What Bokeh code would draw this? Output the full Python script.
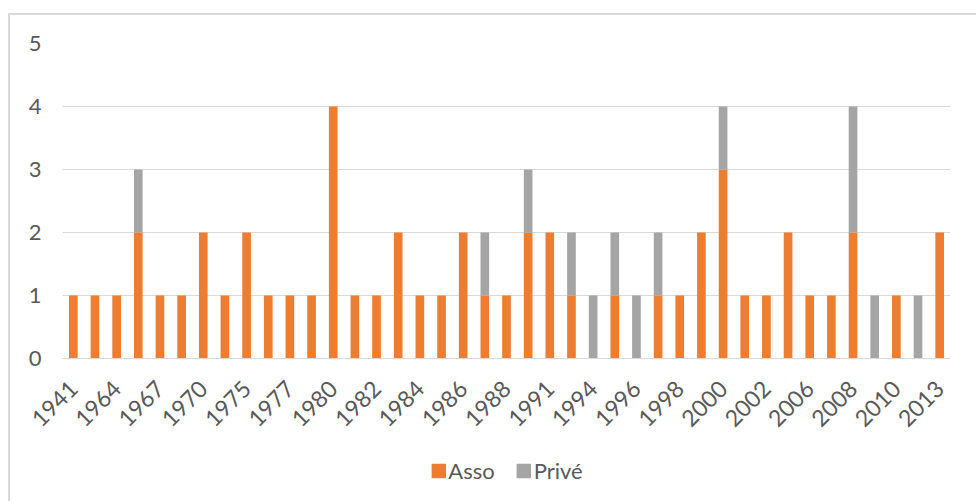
import math
from bokeh.plotting import figure
from bokeh.models import ColumnDataSource, Range1d, FixedTicker, Legend, LegendItem, Spacer
from bokeh.layouts import column, row
from bokeh.embed import file_html
from bokeh.resources import INLINE

years = ["1941", "1962", "1964", "1965", "1967", "1969", "1970", "1973", "1975", "1976",
         "1977", "1979", "1980", "1981", "1982", "1983", "1984", "1985", "1986", "1987",
         "1988", "1990", "1991", "1993", "1994", "1995", "1996", "1997", "1998", "1999",
         "2000", "2001", "2002", "2004", "2006", "2007", "2008", "2009", "2010", "2012",
         "2013"]
asso = [1, 1, 1, 2, 1, 1, 2, 1, 2, 1,
        1, 1, 4, 1, 1, 2, 1, 1, 2, 1,
        1, 2, 2, 1, 0, 1, 0, 1, 1, 2,
        3, 1, 1, 2, 1, 1, 2, 0, 1, 0,
        2]
prive = [0, 0, 0, 1, 0, 0, 0, 0, 0, 0,
         0, 0, 0, 0, 0, 0, 0, 0, 0, 1,
         0, 1, 0, 1, 1, 1, 1, 1, 0, 0,
         1, 0, 0, 0, 0, 0, 2, 1, 0, 1,
         0]
series_names = ["Asso", "Privé"]
y_ticks = [0, 1, 2, 3, 4, 5]

FONT = "Lato"
TXT = "#595959"
GRID = "#d9d9d9"
ORANGE = "#ED7D31"
GREY = "#A5A5A5"
COLORS = [ORANGE, GREY]

idx = list(range(len(years)))
src = ColumnDataSource(dict(x=idx, asso=asso, prive=prive))

p = figure(width=968, height=430, output_backend="svg", toolbar_location=None,
           x_range=Range1d(-0.5, len(years) - 0.5), y_range=Range1d(0, 5),
           min_border_left=52, min_border_right=28, min_border_top=28, min_border_bottom=87)
p.outline_line_color = None
p.background_fill_color = "white"
p.border_fill_color = "white"

rs = p.vbar_stack(["asso", "prive"], x="x", width=0.4, color=COLORS,
                  line_color=None, source=src)

shown = idx[::2]
p.xaxis.ticker = FixedTicker(ticks=shown)
p.xaxis.major_label_overrides = {i: years[i] for i in shown}
p.xaxis.major_label_orientation = math.pi / 4
p.xaxis.major_tick_line_color = None
p.xaxis.minor_tick_line_color = None
p.xaxis.axis_line_color = GRID
p.xaxis.major_label_standoff = 20
p.xaxis.major_label_text_font = FONT
p.xaxis.major_label_text_font_size = "23px"
p.xaxis.major_label_text_color = TXT

p.yaxis.ticker = FixedTicker(ticks=y_ticks)
p.yaxis.axis_line_color = None
p.yaxis.major_tick_line_color = None
p.yaxis.minor_tick_line_color = None
p.yaxis.major_label_standoff = 15
p.yaxis.major_label_text_font = FONT
p.yaxis.major_label_text_font_size = "22px"
p.yaxis.major_label_text_color = TXT

p.xgrid.grid_line_color = None
p.ygrid.grid_line_color = GRID
p.ygrid.grid_line_width = 1

# legend strip below the chart; swatch glyphs carry no drawable coordinates
pl = figure(width=968, height=56, output_backend="svg", toolbar_location=None,
            x_range=Range1d(0, 1), y_range=Range1d(0, 1),
            x_axis_location=None, y_axis_location=None,
            min_border_left=22, min_border_right=0, min_border_top=0, min_border_bottom=6)
pl.outline_line_color = None
pl.xgrid.grid_line_color = None
pl.ygrid.grid_line_color = None
items = []
for name, col in zip(series_names, COLORS):
    r = pl.vbar(x=[float("nan")], top=[float("nan")], width=0.4,
                fill_color=col, line_color=None)
    items.append(LegendItem(label=name, renderers=[r]))
legend = Legend(items=items, orientation="horizontal", location="center",
                glyph_width=18, glyph_height=18, label_standoff=1, spacing=20,
                padding=0, margin=0, border_line_color=None, background_fill_alpha=0,
                label_text_font=FONT, label_text_font_size="22px", label_text_color=TXT)
pl.add_layout(legend, "center")

top_gap = Spacer(width=978, height=13)
top_line = Spacer(width=968, height=2, styles={"background-color": GRID})
left_gap = Spacer(width=8, height=488)
left_line = Spacer(width=2, height=486, styles={"background-color": GRID})
layout = column(top_gap, row(left_gap, column(top_line, row(left_line, column(p, pl)))))

open("out.html", "w").write(file_html(layout, INLINE))
